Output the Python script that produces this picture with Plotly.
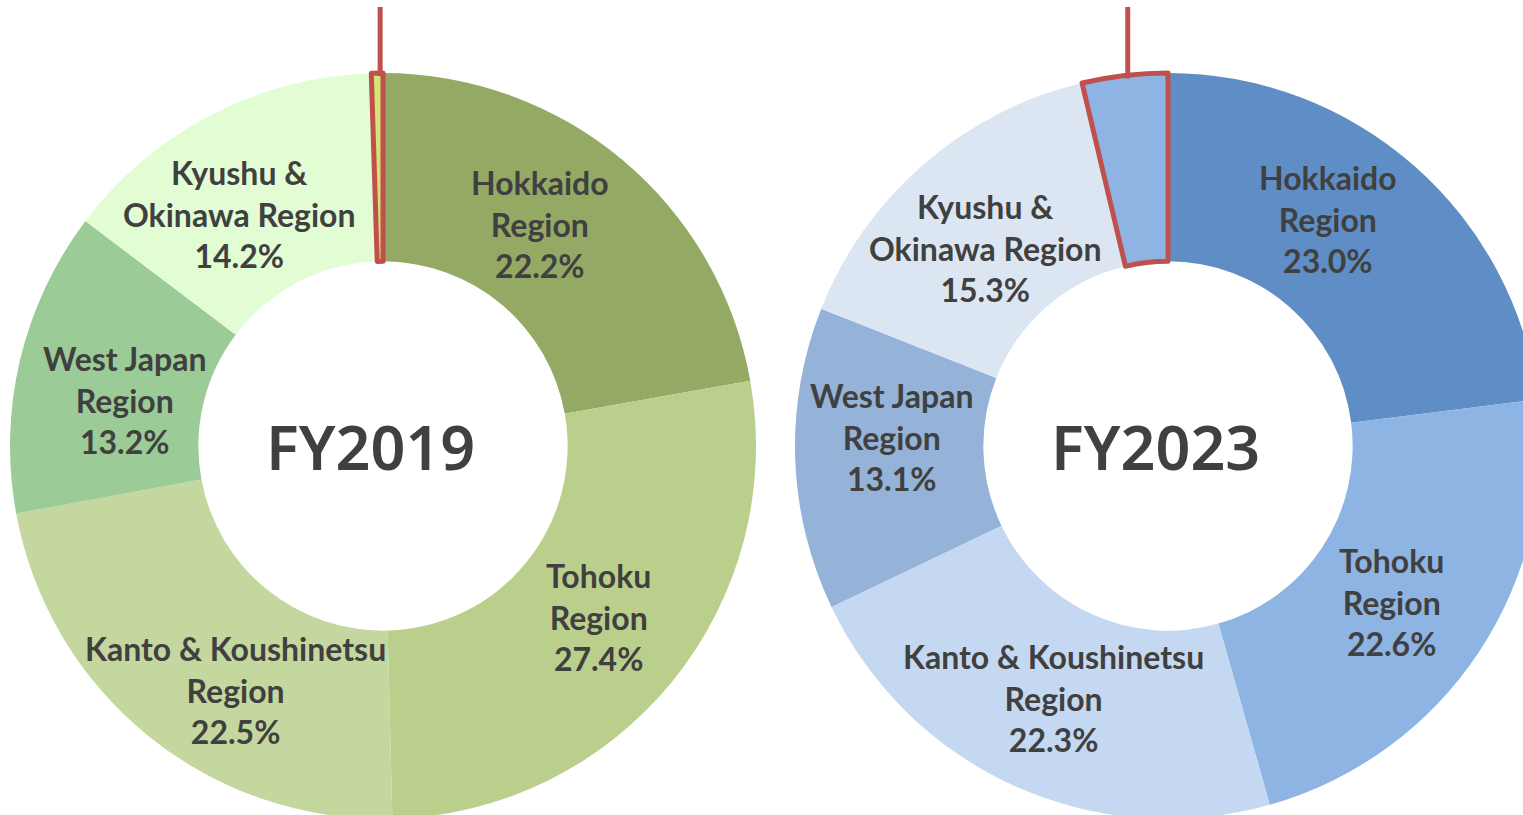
import math
import plotly.graph_objects as go

# Regional share of the total (%), clockwise from 12 o'clock
regions = ['Hokkaido Region', 'Tohoku Region', 'Kanto & Koushinetsu Region',
           'West Japan Region', 'Kyushu & Okinawa Region', 'Other']
label_text = ['Hokkaido<br>Region', 'Tohoku<br>Region', 'Kanto & Koushinetsu<br>Region',
              'West Japan<br>Region', 'Kyushu &<br>Okinawa Region', '']
share_fy2019 = [22.2, 27.4, 22.5, 13.2, 14.2, 0.5]
share_fy2023 = [23.0, 22.6, 22.3, 13.1, 15.3, 3.7]
years = ['FY2019', 'FY2023']

colors_fy2019 = ['#94A964', '#BBCF8D', '#C4D79E', '#9BCC97', '#E2FDD4', '#D3E374']
colors_fy2023 = ['#5F8DC5', '#8EB4E3', '#C5D8F1', '#95B3D8', '#DCE6F2', '#8DB4E2']

HIGHLIGHT = '#C0504D'
TEXT_COLOR = '#404040'

# canvas is a little larger than the window, so the right ring gets cut off
W, H = 1545, 820
RING = 746  # outer diameter in px
LEFT_X0, RIGHT_X0, TOP_Y = 10, 795, 73

# label placement (px offset from the ring centre), like Excel's "best fit"
label_offsets_fy2019 = [(157, -222), (215, 171), (-147, 244), (-259, -46), (-143, -232)]
label_offsets_fy2023 = [(160, -227), (223, 156), (-115, 252), (-277, -9), (-183, -198)]


def make_ring(values, colors, x0):
    """Build one donut trace placed with its left edge at x0 px."""
    widths = [0] * (len(values) - 1) + [5]
    return go.Pie(
        labels=regions,
        values=values,
        textinfo='none',
        hole=0.495,
        sort=False,
        direction='clockwise',
        rotation=0,
        marker=dict(colors=colors,
                    line=dict(color=[HIGHLIGHT] * len(values), width=widths)),
        domain=dict(x=[x0 / W, (x0 + RING) / W],
                    y=[1 - (TOP_Y + RING) / H, 1 - TOP_Y / H]),
        showlegend=False,
        hoverinfo='label+percent',
    )


def leader_x(values, x0):
    """Callout line start: middle of the last slice, on the outer edge."""
    total = sum(values)
    mid = (total - values[-1] / 2) / total * 2 * math.pi
    return x0 + RING / 2 + RING / 2 * math.sin(mid) + 3, TOP_Y + RING / 2 - RING / 2 * math.cos(mid)


def px(x, y):
    return x / W, 1 - y / H


fig = go.Figure()
fig.add_trace(make_ring(share_fy2019, colors_fy2019, LEFT_X0))
fig.add_trace(make_ring(share_fy2023, colors_fy2023, RIGHT_X0))

rings = [(years[0], share_fy2019, LEFT_X0, label_offsets_fy2019),
         (years[1], share_fy2023, RIGHT_X0, label_offsets_fy2023)]
for year, values, x0, offsets in rings:
    cx, cy = x0 + RING / 2, TOP_Y + RING / 2

    # year in the hole
    ax, ay = px(cx - 13, cy)
    fig.add_annotation(
        x=ax, y=ay, xref='paper', yref='paper', xanchor='center', yanchor='middle',
        text=year, showarrow=False,
        font=dict(family='Noto Sans', size=61, color=TEXT_COLOR, weight=600),
    )

    # data labels
    for name, v, (dx, dy) in zip(label_text, values, offsets):
        ax, ay = px(cx + dx, cy + dy)
        fig.add_annotation(
            x=ax, y=ay, xref='paper', yref='paper', xanchor='center', yanchor='middle',
            text=f'{name}<br>{v:.1f}%', showarrow=False, align='center',
            font=dict(family='Lato', size=32, color=TEXT_COLOR, weight='bold'),
        )

    lx, ly = leader_x(values, x0)
    fig.add_shape(type='line', xref='paper', yref='paper',
                  x0=lx / W, x1=lx / W, y0=1 - (ly + 3) / H, y1=1 - 7 / H,
                  line=dict(color=HIGHLIGHT, width=5))

fig.update_layout(
    width=W, height=H,
    margin=dict(l=0, r=0, t=0, b=0),
    paper_bgcolor='white',
)

fig.write_html(
    'out.html',
    config={'displayModeBar': False},
    post_script="document.body.style.margin='0';"
                "document.body.style.overflow='hidden';"
                "document.documentElement.style.overflow='hidden';",
)
